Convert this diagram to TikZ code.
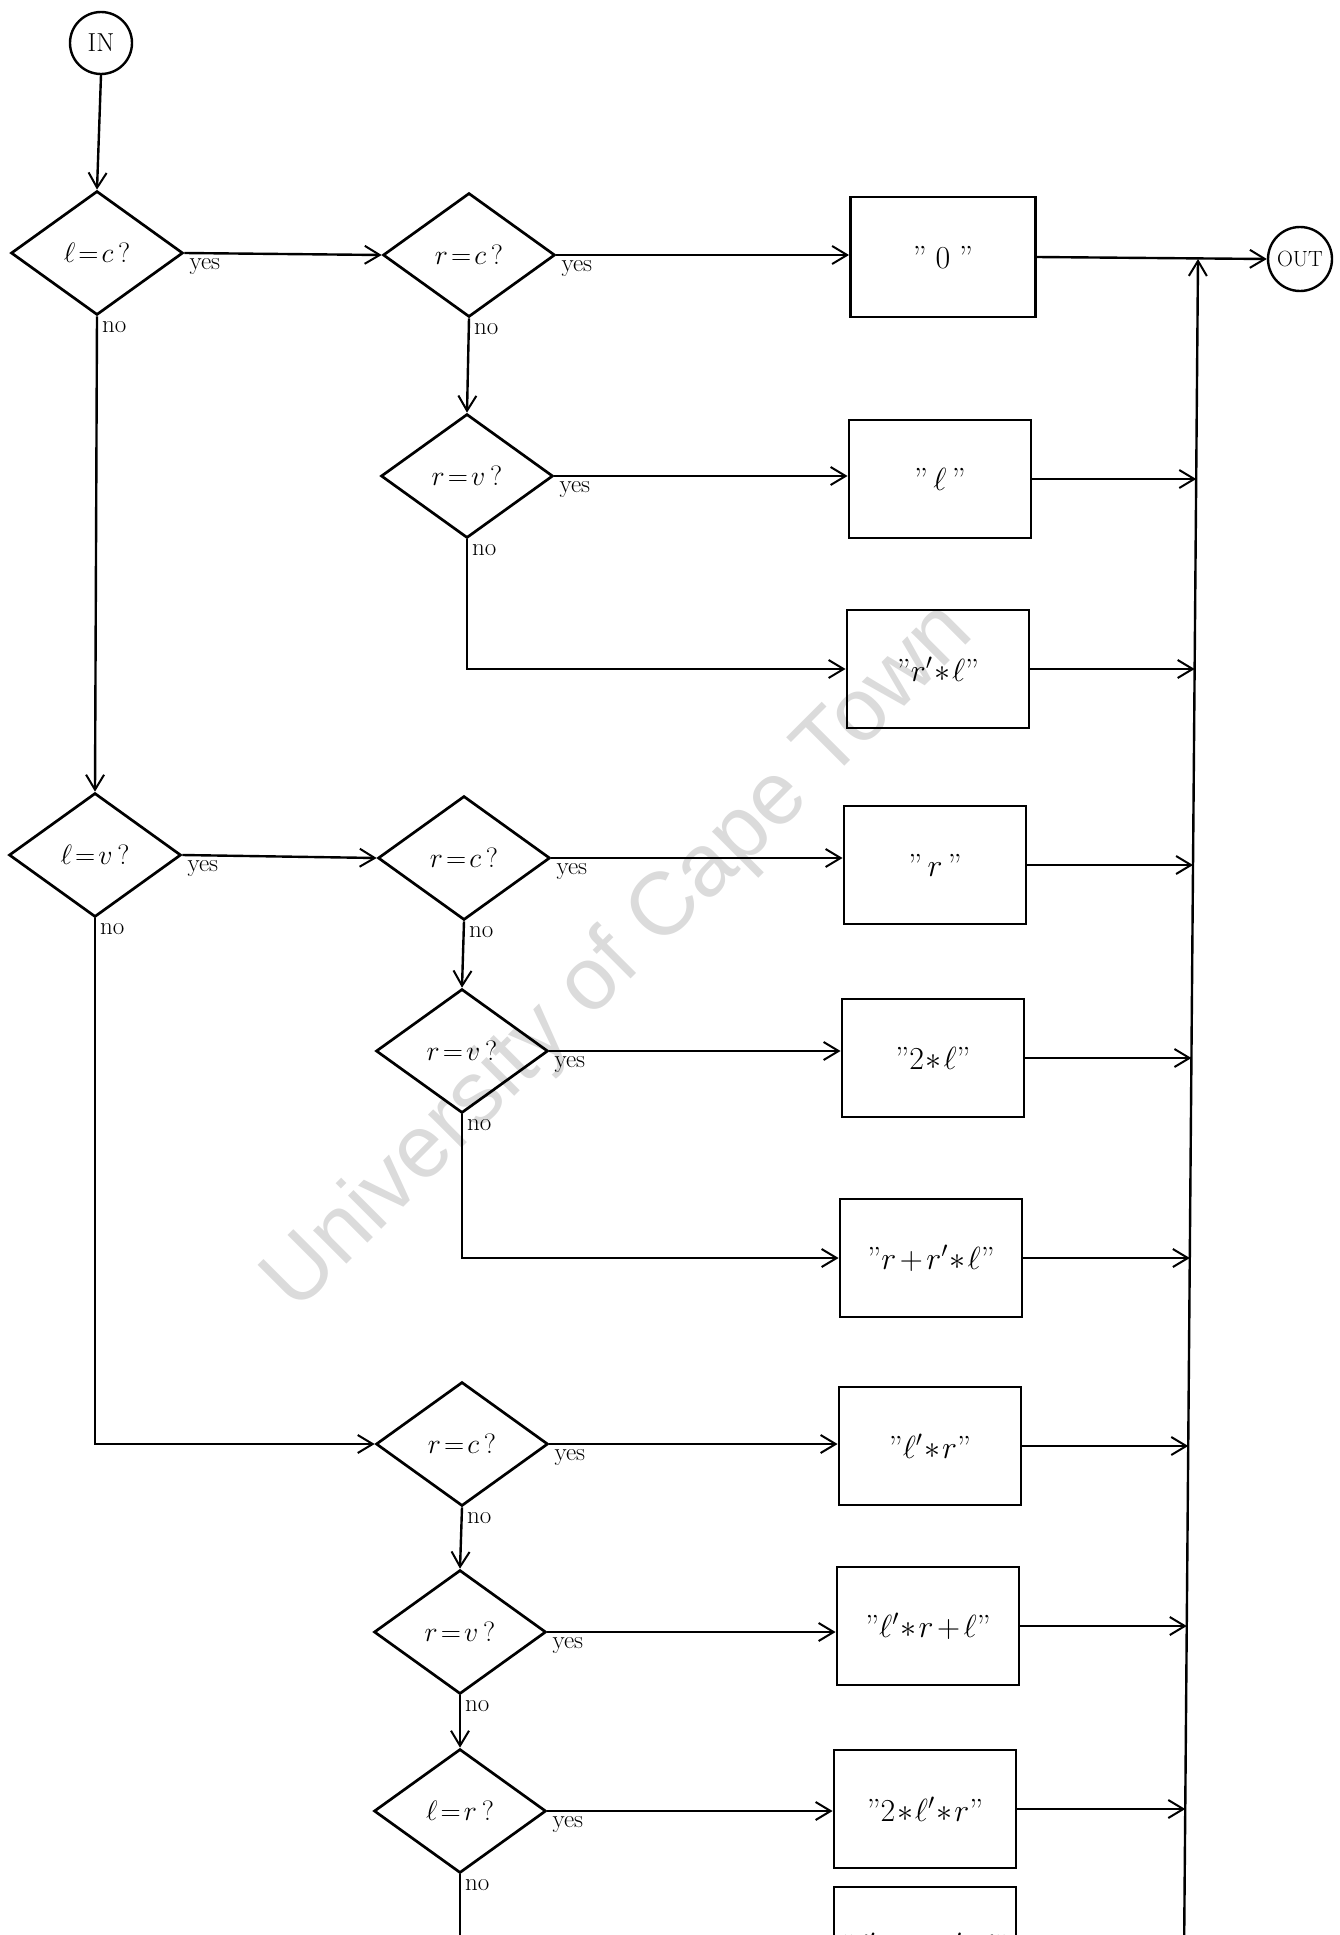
\RequirePackage{fix-cm}
\documentclass[tikz,border=0pt]{standalone}
\usepackage{fontspec}
\newfontfamily\wmfont{Liberation Sans}
\usetikzlibrary{shapes.geometric,arrows.meta,calc}
\newcommand{\qq}{{\normalfont''}}
\newcommand{\tm}{\mkern1mu{\ast}\mkern1mu}
\newcommand{\tp}{\mkern2mu{+}\mkern2mu}
\newcommand{\teq}{\mkern2mu{=}\mkern2mu}
\begin{document}
\begin{tikzpicture}[x=1pt,y=-1pt,
  line width=2.4pt,
  dec/.style={diamond, draw, line width=2.7pt, minimum width=172pt, minimum height=124pt, inner sep=0pt, font=\fontsize{28}{30}\selectfont},
  res/.style={rectangle, draw, line width=2.9pt, minimum width=182pt, minimum height=118pt, inner sep=0pt, font=\fontsize{32}{34}\selectfont},
  term/.style={circle, draw, line width=2.4pt, minimum size=62pt, inner sep=0pt},
  flow/.style={-{Straight Barb[length=15pt,width=18pt,line width=2pt]}},
  ylab/.style={anchor=north west, inner sep=4pt, font=\fontsize{25}{26}\selectfont},
  nlab/.style={anchor=north west, inner sep=4pt, font=\fontsize{25}{26}\selectfont},
  wmark/.style={rotate=45, text=black!14, font=\wmfont\fontsize{89}{89}\selectfont, inner sep=0pt}]
\clip (0,0) rectangle (1340,1935);

% watermark
\node[wmark] (wm) at (620,958) {University of Cape Town};

% terminals
\node[term, font=\fontsize{26}{28}\selectfont] (IN) at (101,43) {IN};
\node[term, font=\fontsize{22}{24}\selectfont, minimum size=64pt] (OUT) at (1300,259) {OUT};

% decisions
\node[dec] (D1) at (97,253) {$\ell\teq c$\,?};
\node[dec] (D2) at (469,255) {$r\teq c$\,?};
\node[dec] (D3) at (467,476) {$r\teq v$\,?};
\node[dec] (D4) at (95,855) {$\ell\teq v$\,?};
\node[dec] (D5) at (464,858) {$r\teq c$\,?};
\node[dec] (D6) at (462,1051) {$r\teq v$\,?};
\node[dec] (D7) at (462,1444) {$r\teq c$\,?};
\node[dec] (D8) at (460,1632) {$r\teq v$\,?};
\node[dec] (D9) at (460,1811) {$\ell\teq r$\,?};

% results
\node[res, minimum width=185pt, minimum height=120pt] (B1) at (943,257) {\qq\;$0$\;\qq};
\node[res] (B2) at (940,479) {\qq\,$\ell$\,\qq};
\node[res] (B3) at (938,669) {\qq$r'\tm\ell$\qq};
\node[res] (B4) at (935,865) {\qq\,$r$\,\qq};
\node[res] (B5) at (933,1058) {\qq$2\tm\ell$\qq};
\node[res] (B6) at (931,1258) {\qq$r\tp r'\tm\ell$\qq};
\node[res] (B7) at (930,1446) {\qq$\ell'\tm r$\qq};
\node[res] (B8) at (928,1626) {\qq$\ell'\tm r\tp\ell$\qq};
\node[res] (B9) at (925,1809) {\qq$2\tm\ell'\tm r$\qq};
\node[res] (B10) at (925,1946) {\qq$\ell'\tm r\tp r'\tm\ell$\qq};

% yes / no labels
\foreach \d in {D1,D2,D3,D4,D5,D6,D7,D8,D9}{
  \node[ylab] (Y\d) at (\d.east) {yes};
  \node[nlab] (N\d) at (\d.south) {no};
}

% collector line
\coordinate (ct) at (1198,259);
\coordinate (cb) at (1184,1960);
\coordinate (c2) at (1196.2,479);
\coordinate (c3) at (1194.6,669);
\coordinate (c4) at (1193.0,865);
\coordinate (c5) at (1191.4,1058);
\coordinate (c6) at (1189.8,1258);
\coordinate (c7) at (1188.2,1446);
\coordinate (c8) at (1186.7,1626);
\coordinate (c9) at (1185.2,1809);
\coordinate (c10) at (1184.1,1946);

% flow
\draw[flow] (IN.south) -- (D1.north);
\draw[flow] (D1.east) -- (D2.west);
\draw[flow] (D1.south) -- (D4.north);
\draw[flow] (D2.east) -- (D2.east -| B1.west);
\draw[flow] (D2.south) -- (D3.north);
\draw[flow] (D3.east) -- (D3.east -| B2.west);
\draw[flow] (D3.south) |- (B3.west);

\draw[flow] (D4.east) -- (D5.west);
\draw[flow] (D4.south) |- (D7.west);
\draw[flow] (D5.east) -- (D5.east -| B4.west);
\draw[flow] (D5.south) -- (D6.north);
\draw[flow] (D6.east) -- (D6.east -| B5.west);
\draw[flow] (D6.south) |- (B6.west);

\draw[flow] (D7.east) -- (D7.east -| B7.west);
\draw[flow] (D7.south) -- (D8.north);
\draw[flow] (D8.east) -- (D8.east -| B8.west);
\draw[flow] (D8.south) -- (D9.north);
\draw[flow] (D9.east) -- (D9.east -| B9.west);
\draw[flow] (D9.south) |- (B10.west);

\draw[flow] (B1.east) -- (OUT.west);
\draw[flow] (cb) -- (ct);
\draw[flow] (B2.east) -- (c2);
\draw[flow] (B3.east) -- (c3);
\draw[flow] (B4.east) -- (c4);
\draw[flow] (B5.east) -- (c5);
\draw[flow] (B6.east) -- (c6);
\draw[flow] (B7.east) -- (c7);
\draw[flow] (B8.east) -- (c8);
\draw[flow] (B9.east) -- (c9);
\draw[flow] (B10.east) -- (c10);
\end{tikzpicture}
\end{document}
